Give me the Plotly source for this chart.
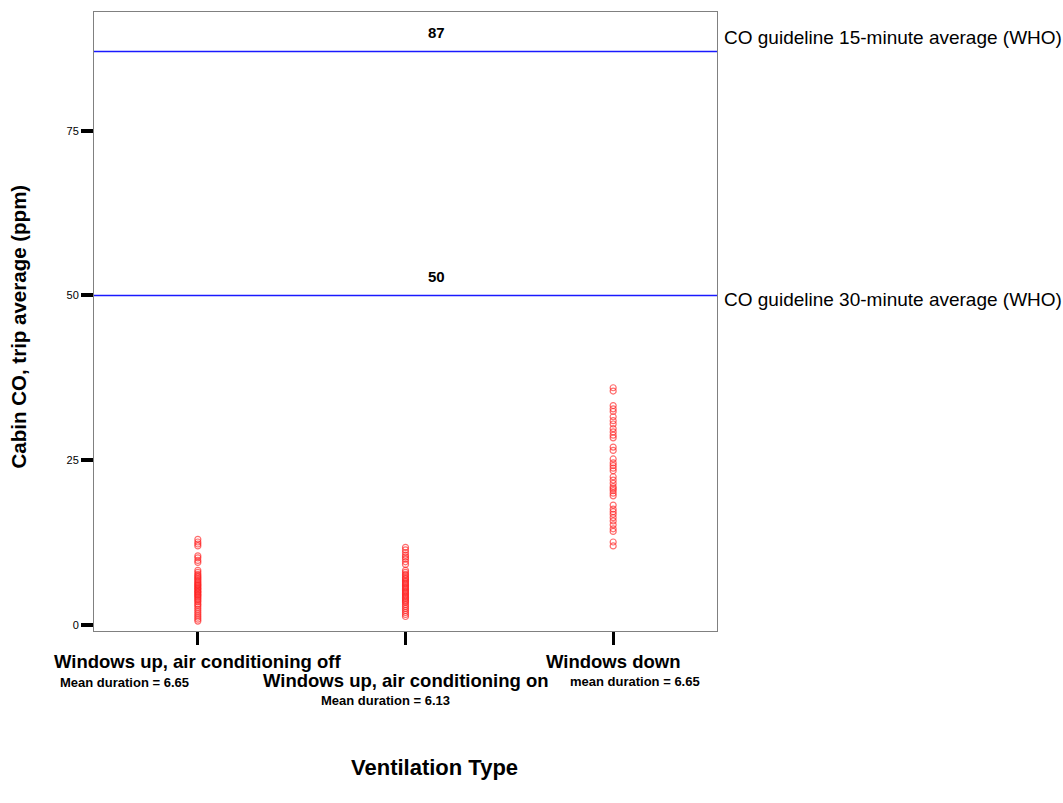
import plotly.graph_objects as go

# Ventilation categories and their per-trip average cabin CO (ppm)
categories = [
    "Windows up, air conditioning off",
    "Windows up, air conditioning on",
    "Windows down",
]
duration_notes = [
    "Mean duration = 6.65",
    "Mean duration = 6.13",
    "mean duration = 6.65",
]

co_ac_off = [13.0, 12.6, 12.3, 12.0, 10.5, 10.2, 9.8, 9.5, 8.3, 8.0, 7.7, 7.5,
             7.3, 7.1, 6.9, 6.7, 6.5, 6.3, 6.1, 6.0, 5.8, 5.6, 5.5, 5.3, 5.1,
             5.0, 4.8, 4.6, 4.5, 4.3, 4.1, 3.9, 3.7, 3.5, 3.2, 3.0, 2.7, 2.4,
             2.1, 1.8, 1.5, 1.2, 0.9, 0.6]
co_ac_on = [11.8, 11.4, 11.0, 10.6, 10.3, 10.0, 9.6, 9.2, 8.3, 8.0, 7.7, 7.5,
            7.2, 7.0, 6.8, 6.6, 6.4, 6.2, 6.0, 5.8, 5.6, 5.4, 5.2, 5.0, 4.8,
            4.6, 4.4, 4.2, 4.0, 3.8, 3.6, 3.4, 3.1, 2.8, 2.5, 2.2, 1.9, 1.6,
            1.3]
co_windows_down = [36.0, 35.5, 33.3, 32.8, 32.4, 31.6, 31.0, 30.5, 29.8, 29.3,
                   28.8, 28.4, 27.0, 26.5, 25.2, 24.6, 24.2, 23.8, 23.4, 22.5,
                   22.0, 21.5, 21.0, 20.7, 20.4, 20.0, 19.6, 18.2, 17.6, 17.2,
                   16.8, 16.3, 15.8, 15.2, 14.6, 14.2, 12.6, 12.0]
series = [co_ac_off, co_ac_on, co_windows_down]

# WHO guideline levels (ppm)
guideline_values = [87, 50]
guideline_labels = [
    "CO guideline 15-minute average (WHO)",
    "CO guideline 30-minute average (WHO)",
]

y_ticks = [0, 25, 50, 75]
x_range = [-0.5, 2.5]

FONT = "Liberation Sans, Arial, sans-serif"

fig = go.Figure()

# Guideline reference lines across the full plot width
for val in guideline_values:
    fig.add_trace(go.Scatter(
        x=x_range, y=[val, val], mode="lines",
        line=dict(color="#1a1aff", width=1.5),
        showlegend=False, hoverinfo="skip",
    ))

for i, vals in enumerate(series):
    fig.add_trace(go.Scatter(
        x=[i] * len(vals),
        y=vals,
        mode="markers",
        marker=dict(symbol="circle-open", size=6,
                    line=dict(width=1.2, color="rgba(255,30,30,0.65)"),
                    color="rgba(255,30,30,0.65)"),
        showlegend=False,
        hoverinfo="y",
    ))

# Value and description labels for each guideline
label_shift = [14, -4]
for val, lab, sh in zip(guideline_values, guideline_labels, label_shift):
    fig.add_annotation(xref="paper", yref="y", x=0.549, y=val, yshift=19,
                       xanchor="center", yanchor="middle",
                       text=f"<b>{val}</b>", showarrow=False,
                       font=dict(family=FONT, size=15, color="black"))
    fig.add_annotation(xref="paper", yref="y", x=1.008, y=val, yshift=sh,
                       xanchor="left", yanchor="middle", text=lab, showarrow=False,
                       font=dict(family=FONT, size=19, color="black"))

# Category labels under the x ticks (middle one staggered lower)
label_yshift = [-30, -49, -30]
note_xshift = [-73, -20, 22]
note_yshift = [-51, -69, -50]
for i, (cat, note) in enumerate(zip(categories, duration_notes)):
    fig.add_annotation(xref="x", yref="paper", x=i, y=0, yshift=label_yshift[i],
                       xanchor="center", yanchor="middle",
                       text=f"<b>{cat}</b>", showarrow=False,
                       font=dict(family=FONT, size=18.5, color="black"))
    fig.add_annotation(xref="x", yref="paper", x=i, y=0, yshift=note_yshift[i],
                       xshift=note_xshift[i], xanchor="center", yanchor="middle",
                       text=f"<b>{note}</b>", showarrow=False,
                       font=dict(family=FONT, size=13, color="black"))

# Axis titles
fig.add_annotation(xref="paper", yref="paper", x=0.546, y=0, yshift=-136,
                   xanchor="center", yanchor="middle",
                   text="<b>Ventilation Type</b>", showarrow=False,
                   font=dict(family=FONT, size=22, color="black"))
fig.add_annotation(xref="paper", yref="paper", x=-0.122, y=0.492,
                   xanchor="center", yanchor="middle",
                   text="<b>Cabin CO, trip average (ppm)</b>", textangle=-90,
                   showarrow=False,
                   font=dict(family=FONT, size=20.5, color="black"))

fig.update_xaxes(range=x_range, tickvals=[0, 1, 2], showticklabels=False,
                 ticks="outside", ticklen=13, tickwidth=3, tickcolor="black",
                 showgrid=False, zeroline=False, showline=True,
                 linecolor="#808080", linewidth=1, mirror=True)
fig.update_yaxes(range=[-0.9, 93.0], tickvals=y_ticks, ticks="outside",
                 ticklen=12, tickwidth=4, tickcolor="black",
                 tickfont=dict(family=FONT, size=11, color="black"),
                 showgrid=False, zeroline=False, showline=True,
                 linecolor="#808080", linewidth=1, mirror=True)

fig.update_layout(
    width=1063, height=803,
    margin=dict(l=94, r=346, t=12, b=172),
    plot_bgcolor="white", paper_bgcolor="white",
    font=dict(family=FONT, color="black"),
)

fig.write_html("out.html")
